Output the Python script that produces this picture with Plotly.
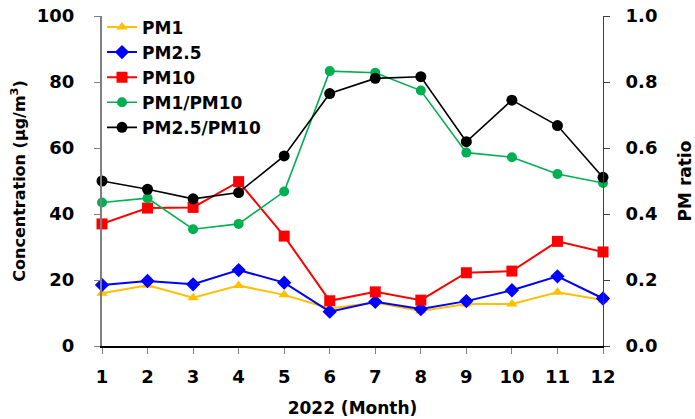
import plotly.graph_objects as go

months = [1, 2, 3, 4, 5, 6, 7, 8, 9, 10, 11, 12]
pm1 = [16.0, 18.4, 14.6, 18.3, 15.5, 11.4, 13.2, 10.6, 12.7, 12.7, 16.3, 13.9]
pm25 = [18.5, 19.7, 18.7, 23.0, 19.2, 10.4, 13.4, 11.2, 13.6, 16.9, 21.1, 14.4]
pm10 = [37.0, 41.8, 42.0, 49.8, 33.3, 13.7, 16.4, 13.9, 22.2, 22.7, 31.7, 28.5]
pm1_pm10 = [0.435, 0.448, 0.354, 0.370, 0.468, 0.833, 0.828, 0.774, 0.586, 0.572, 0.521, 0.494]
pm25_pm10 = [0.500, 0.475, 0.446, 0.465, 0.576, 0.765, 0.811, 0.816, 0.619, 0.745, 0.668, 0.511]

left_ticks = [0, 20, 40, 60, 80, 100]
right_ticks = [0.0, 0.2, 0.4, 0.6, 0.8, 1.0]

FONT = "DejaVu Sans"
fs = 17
tfs = 18

fig = go.Figure()
fig.add_trace(go.Scatter(x=months, y=pm1, name="PM1", mode="lines+markers",
                         line=dict(color="#FFC000", width=2),
                         marker=dict(symbol="triangle-up", size=10, color="#FFC000"),
                         cliponaxis=False))
fig.add_trace(go.Scatter(x=months, y=pm25, name="PM2.5", mode="lines+markers",
                         line=dict(color="#0000FF", width=2),
                         marker=dict(symbol="diamond", size=11, color="#0000FF"),
                         cliponaxis=False))
fig.add_trace(go.Scatter(x=months, y=pm10, name="PM10", mode="lines+markers",
                         line=dict(color="#FF0000", width=2),
                         marker=dict(symbol="square", size=11, color="#FF0000"),
                         cliponaxis=False))
fig.add_trace(go.Scatter(x=months, y=pm1_pm10, name="PM1/PM10", mode="lines+markers",
                         line=dict(color="#00B050", width=1.6),
                         marker=dict(symbol="circle", size=10, color="#00B050"),
                         yaxis="y2", cliponaxis=False))
fig.add_trace(go.Scatter(x=months, y=pm25_pm10, name="PM2.5/PM10", mode="lines+markers",
                         line=dict(color="#000000", width=1.6),
                         marker=dict(symbol="circle", size=11, color="#000000"),
                         yaxis="y2", cliponaxis=False))

fig.update_layout(
    width=695, height=419,
    margin=dict(l=102, r=92, t=16, b=73, autoexpand=False),
    paper_bgcolor="white", plot_bgcolor="white",
    font=dict(family=FONT, size=fs, color="black", weight="bold"),
    showlegend=True,
    legend=dict(x=0.0, y=1.02, xanchor="left", yanchor="top",
                bgcolor="rgba(0,0,0,0)", font=dict(size=fs, weight="bold"),
                itemwidth=30, tracegroupgap=0),
    xaxis=dict(range=[1, 12], tickvals=months, ticktext=[str(m) for m in months],
               showgrid=False, zeroline=False, showline=True, linecolor="black", linewidth=1.5,
               ticks="outside", ticklen=6, tickcolor="#7f7f7f", ticklabelstandoff=8,
               tickfont=dict(size=tfs, weight="bold"),
               title=dict(text="2022 (Month)", standoff=16,
                          font=dict(size=fs, weight="bold"))),
    yaxis=dict(range=[0, 100], tickvals=left_ticks, ticktext=[str(v) for v in left_ticks],
               showgrid=False, zeroline=False, showline=True, linecolor="#7f7f7f", linewidth=2,
               ticks="outside", ticklen=6, tickcolor="#7f7f7f", ticklabelstandoff=16,
               tickfont=dict(size=tfs, weight="bold"),
               title=dict(text="Concentration (\u03bcg/m<sup>3</sup>)", standoff=7,
                          font=dict(size=16, weight="bold"))),
    yaxis2=dict(range=[0, 1], tickvals=right_ticks, ticktext=[f"{v:.1f}" for v in right_ticks],
                overlaying="y", side="right",
                showgrid=False, zeroline=False, showline=True, linecolor="#404040", linewidth=1,
                ticks="outside", ticklen=6, tickcolor="#404040", ticklabelstandoff=12,
                tickfont=dict(size=tfs, weight="bold"),
                title=dict(text="PM ratio", standoff=22,
                           font=dict(size=fs, weight="bold"))),
)

fig.write_html("out.html", config={"displayModeBar": False},
               post_script="document.body.style.margin='0';")
